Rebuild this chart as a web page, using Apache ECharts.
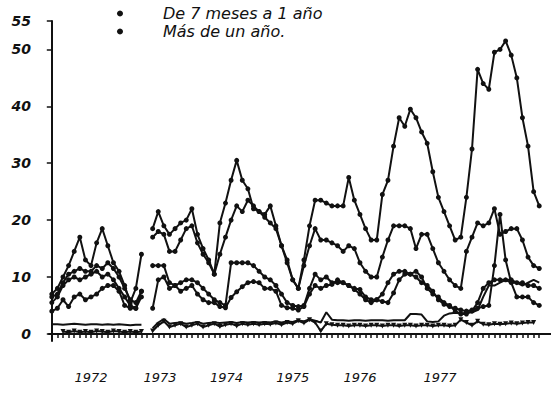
<!DOCTYPE html>
<html><head><meta charset="utf-8">
<script src="https://cdn.jsdelivr.net/npm/echarts@6/dist/echarts.min.js"></script>
<style>html,body{margin:0;padding:0;background:#fff}#c{width:551px;height:407px}</style>
</head><body><div id="c"></div>
<script>
// month index of every observation (0 .. 87)
const months = [0,1,2,3,4,5,6,7,8,9,10,11,12,13,14,15,16,17,18,19,20,21,22,23,24,25,26,27,28,29,30,31,32,33,34,35,36,37,38,39,40,41,42,43,44,45,46,47,48,49,50,51,52,53,54,55,56,57,58,59,60,61,62,63,64,65,66,67,68,69,70,71,72,73,74,75,76,77,78,79,80,81,82,83,84,85,86,87];
const yearLabels = ['1972','1973','1974','1975','1976','1977'];
const yearLabelPos = [7, 19.3, 31.2, 43, 55, 69.3];
const yTicks = [0,10,20,30,40,50,55];
const legendNames = ['De 7 meses a 1 año', 'Más de un año.'];

const s1 = [7,8,10,12,14.5,17,13,12,16,18.5,15.5,12.5,11,8.5,5.5,8,14,null,
  18.5,21.5,19,17.5,18.5,19.5,20,22,17.5,15,13,10.5,
  19.5,23,27,30.5,27,25.5,22,21.5,20.5,19.5,18.5,15.5,13,9.5,8,13,19,23.5,23.5,23,22.5,22.5,22.5,27.5,23.5,21,18.5,16.5,16.5,
  24.5,27,33,38,36.5,39.5,38,35.5,33.5,28.5,24,21.5,19,16.5,17,24,32.5,46.5,44,43,49.5,50,51.5,49,45,38,33,25,22.5];
const s2 = [6.5,7,9,10.5,11,11.5,11,11,12,11.5,12.5,11.5,10,8,6,5.5,7.5,null,
  17,18,17.5,14.5,14.5,16.5,18.5,19,16,14,12.5,10.5,
  14,17,20,22.5,21.5,23.5,22.5,21.5,21,22.5,19,15.5,12.5,9.5,8,
  12,15.5,18.5,16.5,16.5,16,15.5,14.5,15.5,15,12.5,11,10,10,
  13.5,16.5,19,19,19,18.5,15,17.5,17.5,15,12.5,11,9.5,8.5,8,
  14.5,17,19.5,19,19.5,22,17.5,18,18.5,18.5,16.5,13.5,12,11.5];
const s3 = [5.5,6.5,8.5,9.5,10,9.5,10,10.5,11,10,10.5,9.5,8,6.5,5,4.5,6.5,null,
  12,12,12,9,8.5,9,9.5,9.5,9,8,7,6,
  5.5,5,12.5,12.5,12.5,12.5,12,11,10,9.5,8.5,7,5.5,5,4.8,5,8,10.5,9.5,10,9,9,9,8.5,8,7.8,6.5,6,6,
  7,9,10.5,11,11,10.5,11,10,8,7,6.5,5.5,5,4,3.5,3.5,4,5.5,8,9,9.5,9.5,9.5,9.5,9,9,8.5,8.5,8];
const s4 = [4,4.5,6,4.8,6.5,7,6,6.5,7,8,8.5,8.5,7.5,5,4.5,4.5,7.5,null,
  4.5,9.5,10,8,8.5,7.5,8,8.5,7,6,5.5,5.5,
  4.8,4.6,6.4,7.4,8.3,9,9.2,9,8,8,7.5,5,4.6,4.5,4.2,4.8,7,8.5,8,8.5,8.7,9.5,9,8.5,7.8,7,6,5.5,6,
  5.7,5.5,7.2,9.5,10.5,10.5,10,9,8.5,7.5,6,5.2,4.8,4.5,4.2,4,4.2,4.5,4.8,5,12,21,13,9,6.5,6.5,6.5,5.5,5];
const s5 = [null,null,0.4,0.3,0.5,0.3,0.4,0.3,0.5,0.4,0.3,0.5,0.4,0.3,0.4,0.3,0.4,null,
  0.5,1.5,2.2,1.2,1.5,1.8,1.2,1.5,1.8,1.2,1.5,1.8,
  1.3,1.6,1.8,1.4,1.8,1.6,1.8,1.6,1.8,1.7,1.9,1.6,2,1.8,2.3,1.9,2.5,2,0.5,1.8,1.6,1.5,1.5,1.4,1.5,1.5,1.4,1.5,1.5,
  1.4,1.5,1.5,1.4,1.5,1.5,1.4,1.5,1.5,1.4,1.5,1.5,1.4,1.5,2.5,2,1.5,2.2,1.7,1.6,1.8,1.7,1.8,1.9,1.8,1.9,2,2];
const s6 = [1.7,1.7,1.6,1.7,1.8,1.7,1.6,1.7,1.7,1.6,1.7,1.6,1.7,1.6,1.5,1.6,1.6,null,
  1.0,2.0,2.6,1.8,1.9,2.0,1.8,1.9,2.1,1.8,1.9,2.0,
  1.9,2.0,2.1,1.9,2.1,2.0,2.1,2.0,2.1,2.0,2.2,2.0,2.2,2.1,2.4,2.2,2.6,2.3,2.0,3.8,2.5,2.4,2.4,2.3,2.4,2.4,2.3,2.4,2.4,
  2.4,2.3,2.4,2.4,2.4,3.5,3.5,3.4,2.2,2.1,2.2,3.2,3.6,3.7,3.6,3.7,3.8,4.2,6.5,8.5,8.5,9,9.5,9,9,8.5,9,9.5,9];

const pairs = arr => months.map((m, i) => [m, arr[i]]);
const INK = '#111';

const lineSeries = (name, arr, symbol, size, rotate) => ({
  name, type: 'line', data: pairs(arr), connectNulls: false,
  symbol: symbol, symbolSize: size, symbolRotate: rotate || 0,
  showSymbol: symbol !== 'none',
  lineStyle: { color: INK, width: 2 },
  itemStyle: { color: INK, borderWidth: 0 },
  emphasis: { disabled: true }, animation: false, z: 3
});

const chart = echarts.init(document.getElementById('c'), null, { renderer: 'svg' });
chart.setOption({
  animation: false,
  backgroundColor: '#fff',
  grid: { left: 49, right: 0, top: 21, bottom: 66 },
  legend: {
    data: legendNames.map(n => ({ name: n, icon: 'circle' })),
    orient: 'vertical', left: 112, top: 0, itemGap: 1,
    itemWidth: 6, itemHeight: 6, selectedMode: false,
    textStyle: { color: INK, fontSize: 16, fontStyle: 'italic', fontFamily: 'DejaVu Sans', lineHeight: 17, padding: [0,0,0,35] }
  },
  xAxis: {
    type: 'value', min: -0.5, max: 89.1,
    splitLine: { show: false },
    axisLine: { show: true, lineStyle: { color: INK, width: 2 } },
    axisTick: { show: true, customValues: months, length: 4, lineStyle: { color: INK, width: 1.5 } },
    axisLabel: { customValues: yearLabelPos, margin: 30, color: INK, fontSize: 13, fontStyle: 'italic', fontFamily: 'DejaVu Sans',
      formatter: v => { const k = yearLabelPos.indexOf(v); return k >= 0 ? yearLabels[k] : ''; } }
  },
  yAxis: {
    type: 'value', min: -1.25, max: 55,
    splitLine: { show: false },
    axisLine: { show: true, lineStyle: { color: INK, width: 2 } },
    axisTick: { show: true, customValues: yTicks, length: 5, lineStyle: { color: INK, width: 1.5 } },
    axisLabel: { customValues: yTicks, margin: 18, color: INK, fontSize: 14, fontWeight: 'bold', fontStyle: 'italic', fontFamily: 'DejaVu Sans' }
  },
  series: [
    lineSeries(legendNames[1], s1, 'circle', 5),
    lineSeries(legendNames[0], s2, 'circle', 5),
    lineSeries('Serie 3', s3, 'circle', 5),
    lineSeries('Serie 4', s4, 'circle', 5),
    lineSeries('Serie 5', s5, 'triangle', 5, 180),
    lineSeries('Serie 6', s6, 'none', 0)
  ]
});
</script></body></html>
